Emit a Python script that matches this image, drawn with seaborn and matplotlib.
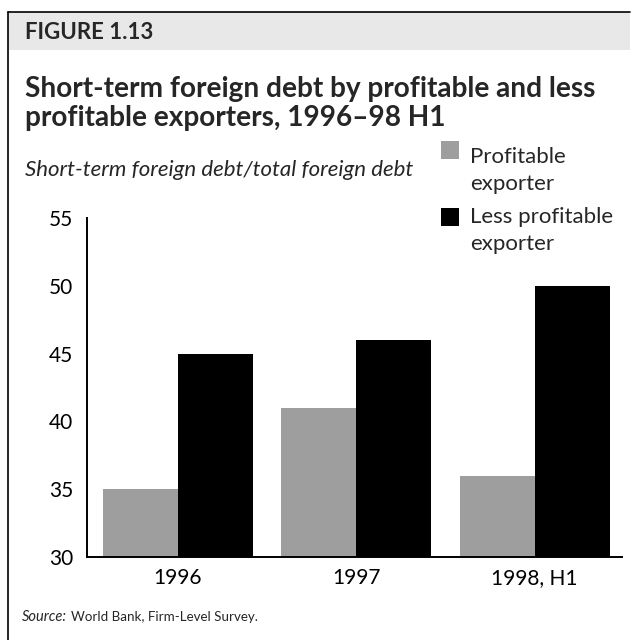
import matplotlib
matplotlib.use("Agg")
import matplotlib.pyplot as plt
from matplotlib.patches import Rectangle
from matplotlib.lines import Line2D
import pandas as pd
import seaborn as sns

# Data
periods = ["1996", "1997", "1998, H1"]
profitable = [35, 41, 36]
less_profitable = [45, 46, 50]
series_names = ["Profitable exporter", "Less profitable exporter"]
legend_lines = [["Profitable", "exporter"], ["Less profitable", "exporter"]]
y_ticks = [30, 35, 40, 45, 50, 55]

colors = ["#9e9e9e", "#000000"]

df = pd.DataFrame({
    "period": periods * 2,
    "share": profitable + less_profitable,
    "exporter": [series_names[0]] * 3 + [series_names[1]] * 3,
})

sns.set_theme(style="white")
plt.rcParams["font.family"] = ["Lato", "DejaVu Sans"]

W, H = 638, 640
fig = plt.figure(figsize=(W / 100, H / 100), dpi=100)


def fx(px):
    return px / W


def fy(py):
    return 1 - py / H


ax = fig.add_axes([fx(87), fy(557), (622 - 87) / W, (557 - 218) / H])

sns.barplot(data=df, x="period", y="share", hue="exporter", palette=colors,
            saturation=1, width=0.84, gap=0, legend=False, ax=ax,
            edgecolor="none", linewidth=0)

ax.set_ylim(30, 55)
ax.set_xlim(-0.51, 2.49)
ax.set_yticks(y_ticks)
ax.set_yticklabels([str(v) for v in y_ticks])
ax.tick_params(axis="y", length=0, pad=10, labelsize=15, labelcolor="black")
ax.tick_params(axis="x", length=0, pad=8, labelsize=15, labelcolor="black")
ax.set_xlabel("")
ax.set_ylabel("")
for side in ["top", "right"]:
    ax.spines[side].set_visible(False)
for side in ["left", "bottom"]:
    ax.spines[side].set_color("black")
    ax.spines[side].set_linewidth(1.4)

# Frame: left rule, top rule and shaded header band
fig.add_artist(Rectangle((fx(8), fy(50)), (630 - 8) / W, 38 / H,
                         transform=fig.transFigure, facecolor="#e8e8e8",
                         edgecolor="none", zorder=0))
fig.add_artist(Line2D([fx(8), fx(630)], [fy(12)] * 2,
                      transform=fig.transFigure, color="black", lw=1.2))
fig.add_artist(Line2D([fx(8)] * 2, [fy(12), 0],
                      transform=fig.transFigure, color="black", lw=1.2))

fig.text(fx(25), fy(39), "FIGURE 1.13", fontsize=16, fontweight="bold",
         va="baseline", ha="left")

title_lines = ["Short-term foreign debt by profitable and less",
               "profitable exporters, 1996\u201398 H1"]
for line, base in zip(title_lines, [97, 126]):
    fig.text(fx(25), fy(base), line, fontsize=20.2, fontweight="bold",
             va="baseline", ha="left")

fig.text(fx(25), fy(176), "Short-term foreign debt/total foreign debt",
         fontsize=16, style="italic", va="baseline", ha="left")

# Legend
for lines, col, sq_top, bases in zip(legend_lines, colors, [141, 208],
                                     [[163, 190], [223, 250]]):
    fig.add_artist(Rectangle((fx(441), fy(sq_top + 18)), 18 / W, 18 / H,
                             transform=fig.transFigure, facecolor=col,
                             edgecolor="none"))
    for line, base in zip(lines, bases):
        fig.text(fx(470), fy(base), line, fontsize=16, va="baseline",
                 ha="left")

src = fig.text(fx(22), fy(621), "Source:", fontsize=10.5, style="italic",
               va="baseline", ha="left")
fig.canvas.draw()
bb = src.get_window_extent()
fig.text((bb.x1 + 4) / W, fy(621), "World Bank, Firm-Level Survey.",
         fontsize=9.6, va="baseline", ha="left")

fig.savefig("out.png", dpi=100)
